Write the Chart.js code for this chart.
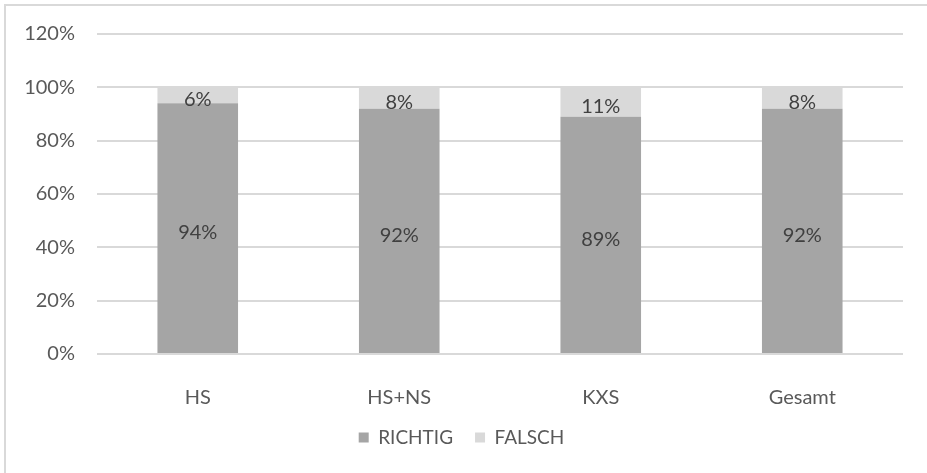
<!DOCTYPE html>
<html>
<head>
<meta charset="utf-8">
<script src="https://cdn.jsdelivr.net/npm/chart.js@4/dist/chart.umd.min.js"></script>
<style>
html,body{margin:0;padding:0;background:#fff;}
#wrap{position:absolute;left:0;top:0;width:927px;height:473px;}
</style>
</head>
<body>
<div id="wrap"><canvas id="c" width="927" height="473"></canvas></div>
<script>
const categories = ["HS", "HS+NS", "KXS", "Gesamt"];
const richtig = [94, 92, 89, 92];
const falsch = [6, 8, 11, 8];
const yTicks = [0, 20, 40, 60, 80, 100, 120];

const FONT = "Lato, 'Liberation Sans', sans-serif";

const borderPlugin = {
  id: 'frame',
  beforeDraw(chart) {
    const ctx = chart.ctx;
    ctx.save();
    ctx.fillStyle = '#fff';
    ctx.fillRect(0, 0, chart.width, chart.height);
    ctx.strokeStyle = '#d9d9d9';
    ctx.lineWidth = 2;
    ctx.strokeRect(5, 5, chart.width + 10, chart.height + 10);
    ctx.restore();
  }
};

const labelPlugin = {
  id: 'segLabels',
  afterDatasetsDraw(chart) {
    const ctx = chart.ctx;
    ctx.save();
    ctx.font = "20px " + FONT;
    ctx.fillStyle = '#404040';
    ctx.textAlign = 'center';
    ctx.textBaseline = 'alphabetic';
    chart.data.datasets.forEach((ds, di) => {
      const meta = chart.getDatasetMeta(di);
      meta.data.forEach((bar, i) => {
        const top = Math.min(bar.y, bar.base);
        const bot = Math.max(bar.y, bar.base);
        ctx.fillText(ds.data[i] + '%', bar.x, (top + bot) / 2 + 11);
      });
    });
    ctx.restore();
  }
};

new Chart(document.getElementById('c'), {
  type: 'bar',
  data: {
    labels: categories,
    datasets: [
      { label: 'RICHTIG', data: richtig, backgroundColor: '#a5a5a5', barPercentage: 0.4, categoryPercentage: 1 },
      { label: 'FALSCH', data: falsch, backgroundColor: '#d9d9d9', barPercentage: 0.4, categoryPercentage: 1 }
    ]
  },
  options: {
    responsive: false,
    animation: false,
    layout: { padding: { left: 20, right: 24, top: 33, bottom: 16 } },
    plugins: {
      tooltip: { enabled: false },
      legend: {
        position: 'bottom',
        labels: {
          boxWidth: 10, boxHeight: 10, padding: 22,
          color: '#595959',
          font: { family: FONT, size: 19 }
        }
      }
    },
    scales: {
      x: {
        stacked: true,
        grid: { display: false },
        border: { display: false },
        ticks: { color: '#595959', font: { family: FONT, size: 20 }, padding: 24 },
        afterFit(s) { s.height = 52; }
      },
      y: {
        stacked: true,
        min: 0, max: 120,
        afterBuildTicks(s) { s.ticks = yTicks.map(v => ({ value: v })); },
        grid: { color: '#d9d9d9', lineWidth: 2, drawTicks: false },
        border: { display: false },
        ticks: {
          color: '#595959', font: { family: FONT, size: 20 }, padding: 22,
          callback: v => v + '%'
        },
        afterFit(s) { s.width = 77; }
      }
    }
  },
  plugins: [borderPlugin, labelPlugin]
});
</script>
</body>
</html>
